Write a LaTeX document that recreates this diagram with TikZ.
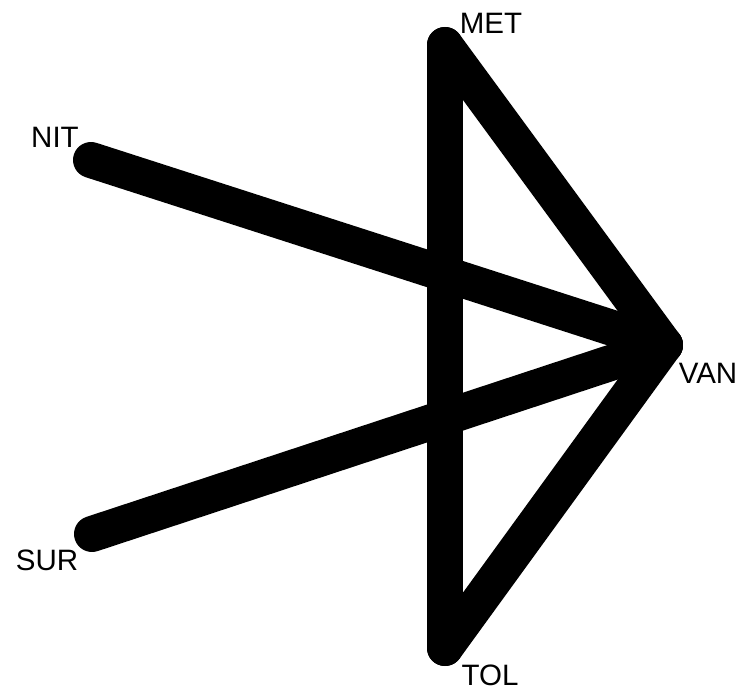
\documentclass[tikz,border=0pt]{standalone}
\usepackage{fontspec}
\setmainfont{Liberation Sans}
\begin{document}
\begin{tikzpicture}[x=1pt,y=-1pt,
  edge/.style={line width=36pt,line cap=round,line join=round,black},
  lab/.style={inner sep=0pt,font=\fontsize{29.5}{31}\selectfont}]
\useasboundingbox (0,0) rectangle (748,693);
\coordinate (MET) at (445,45);
\coordinate (NIT) at (91,160);
\coordinate (VAN) at (665,345);
\coordinate (SUR) at (92,534);
\coordinate (TOL) at (445,648);
\draw[edge] (NIT) -- (VAN);
\draw[edge] (SUR) -- (VAN);
\draw[edge] (MET) -- (VAN);
\draw[edge] (TOL) -- (VAN);
\draw[edge] (MET) -- (TOL);
\node[lab] (lMET) at (491,23) {MET};
\node[lab] (lNIT) at (55,137) {NIT};
\node[lab] (lVAN) at (708,373) {VAN};
\node[lab] (lSUR) at (47,560) {SUR};
\node[lab] (lTOL) at (490,675) {TOL};
\end{tikzpicture}
\end{document}
